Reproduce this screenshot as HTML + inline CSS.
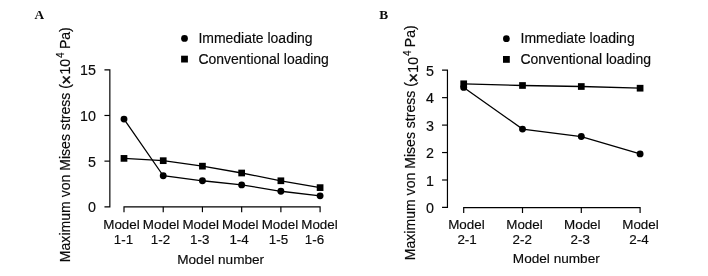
<!DOCTYPE html>
<html><head><meta charset="utf-8"><title>Figure</title>
<style>
html,body{margin:0;padding:0;background:#fff;}
body{width:708px;height:276px;overflow:hidden;}
svg{display:block;}
text{font-family:"Liberation Sans",Arial,sans-serif;fill:#0a0a0a;stroke:#0a0a0a;stroke-width:0.16px;}
.t{font-size:14.3px;}
.xt{font-size:13.4px;}
.lg{font-size:13.98px;}
.lab{font-size:14.07px;}
.xl{font-size:13.6px;}
.pl{font-family:"Liberation Serif","Times New Roman",serif;font-weight:bold;font-size:13.3px;stroke:none;}
.ax{stroke:#000;stroke-width:1.18;fill:none;}
.ln{stroke:#000;stroke-width:1.3;fill:none;}
.m{fill:#000;}
</style></head><body>
<svg width="708" height="276" viewBox="0 0 708 276">
<rect width="708" height="276" fill="#fff"/>

<text class="pl" x="34.4" y="19.35">A</text>
<path class="ax" d="M104.45 69.8 H109.85 V206.8 H104.45"/>
<text class="t" text-anchor="end" x="95.95" y="212.2">0</text>
<path class="ax" d="M104.45 161.13 H109.85"/>
<text class="t" text-anchor="end" x="95.95" y="166.53">5</text>
<path class="ax" d="M104.45 115.47 H109.85"/>
<text class="t" text-anchor="end" x="95.95" y="120.87">10</text>
<text class="t" text-anchor="end" x="95.95" y="75.2">15</text>
<path class="ax" d="M124 212.2 V206.8 H320.1 V212.2"/>
<path class="ax" d="M163.22 206.8 V212.2"/>
<path class="ax" d="M202.44 206.8 V212.2"/>
<path class="ax" d="M241.66 206.8 V212.2"/>
<path class="ax" d="M280.88 206.8 V212.2"/>
<text class="xt" text-anchor="middle" x="121.5" y="228.8">Model</text>
<text class="xt" text-anchor="middle" x="123.5" y="243.8">1-1</text>
<text class="xt" text-anchor="middle" x="161.1" y="228.8">Model</text>
<text class="xt" text-anchor="middle" x="160.4" y="243.8">1-2</text>
<text class="xt" text-anchor="middle" x="200.7" y="228.8">Model</text>
<text class="xt" text-anchor="middle" x="199.7" y="243.8">1-3</text>
<text class="xt" text-anchor="middle" x="240.3" y="228.8">Model</text>
<text class="xt" text-anchor="middle" x="239.1" y="243.8">1-4</text>
<text class="xt" text-anchor="middle" x="279.9" y="228.8">Model</text>
<text class="xt" text-anchor="middle" x="278.4" y="243.8">1-5</text>
<text class="xt" text-anchor="middle" x="319.5" y="228.8">Model</text>
<text class="xt" text-anchor="middle" x="314.5" y="243.8">1-6</text>
<polyline class="ln" points="124,119.12 163.22,175.75 202.44,180.77 241.66,184.88 280.88,191.27 320.1,195.84"/>
<polyline class="ln" points="124,158.39 163.22,160.68 202.44,166.16 241.66,173.01 280.88,180.77 320.1,187.62"/>
<circle class="m" cx="124" cy="119.12" r="3.45"/>
<circle class="m" cx="163.22" cy="175.75" r="3.45"/>
<circle class="m" cx="202.44" cy="180.77" r="3.45"/>
<circle class="m" cx="241.66" cy="184.88" r="3.45"/>
<circle class="m" cx="280.88" cy="191.27" r="3.45"/>
<circle class="m" cx="320.1" cy="195.84" r="3.45"/>
<rect class="m" x="120.65" y="155.04" width="6.7" height="6.7"/>
<rect class="m" x="159.87" y="157.33" width="6.7" height="6.7"/>
<rect class="m" x="199.09" y="162.81" width="6.7" height="6.7"/>
<rect class="m" x="238.31" y="169.66" width="6.7" height="6.7"/>
<rect class="m" x="277.53" y="177.42" width="6.7" height="6.7"/>
<rect class="m" x="316.75" y="184.27" width="6.7" height="6.7"/>
<circle class="m" cx="184.5" cy="38.4" r="3.4"/>
<text class="lg" x="198.4" y="43">Immediate loading</text>
<rect class="m" x="181.1" y="55.7" width="6.8" height="6.8"/>
<text class="lg" x="198.4" y="64">Conventional loading</text>
<text class="lab" text-anchor="middle" transform="translate(70.2 144.7) rotate(-90)">Maximum von Mises stress (<tspan font-size="16" stroke-width="0.5" dx="-0.46" dy="1.5">×</tspan><tspan dx="0.54" dy="-1.5">10</tspan><tspan font-size="10" dx="1" dy="-5.8">4</tspan><tspan dx="-0.6" dy="5.8"> Pa)</tspan></text>
<text class="xl" text-anchor="middle" x="220.7" y="263.5">Model number</text>
<text class="pl" x="379.3" y="19.2">B</text>
<path class="ax" d="M442.05 70.2 H447.45 V207.45 H442.05"/>
<text class="t" text-anchor="end" x="433.85" y="213.05">0</text>
<path class="ax" d="M442.05 180 H447.45"/>
<text class="t" text-anchor="end" x="433.85" y="185.6">1</text>
<path class="ax" d="M442.05 152.55 H447.45"/>
<text class="t" text-anchor="end" x="433.85" y="158.15">2</text>
<path class="ax" d="M442.05 125.1 H447.45"/>
<text class="t" text-anchor="end" x="433.85" y="130.7">3</text>
<path class="ax" d="M442.05 97.65 H447.45"/>
<text class="t" text-anchor="end" x="433.85" y="103.25">4</text>
<text class="t" text-anchor="end" x="433.85" y="75.8">5</text>
<path class="ax" d="M463.7 213 V207.6 H640.1 V213"/>
<path class="ax" d="M522.5 207.6 V213"/>
<path class="ax" d="M581.3 207.6 V213"/>
<text class="xt" text-anchor="middle" x="466.4" y="228.8">Model</text>
<text class="xt" text-anchor="middle" x="467.1" y="243.8">2-1</text>
<text class="xt" text-anchor="middle" x="524.5" y="228.8">Model</text>
<text class="xt" text-anchor="middle" x="522.3" y="243.8">2-2</text>
<text class="xt" text-anchor="middle" x="582.3" y="228.8">Model</text>
<text class="xt" text-anchor="middle" x="580.2" y="243.8">2-3</text>
<text class="xt" text-anchor="middle" x="640.5" y="228.8">Model</text>
<text class="xt" text-anchor="middle" x="638.9" y="243.8">2-4</text>
<polyline class="ln" points="463.7,87.41 522.5,129.11 581.3,136.55 640.1,153.9"/>
<polyline class="ln" points="463.7,83.79 522.5,85.49 581.3,86.51 640.1,88.21"/>
<circle class="m" cx="463.7" cy="87.41" r="3.45"/>
<circle class="m" cx="522.5" cy="129.11" r="3.45"/>
<circle class="m" cx="581.3" cy="136.55" r="3.45"/>
<circle class="m" cx="640.1" cy="153.9" r="3.45"/>
<rect class="m" x="460.35" y="80.44" width="6.7" height="6.7"/>
<rect class="m" x="519.15" y="82.14" width="6.7" height="6.7"/>
<rect class="m" x="577.95" y="83.16" width="6.7" height="6.7"/>
<rect class="m" x="636.75" y="84.86" width="6.7" height="6.7"/>
<circle class="m" cx="506.4" cy="38.65" r="3.4"/>
<text class="lg" x="520.5" y="43">Immediate loading</text>
<rect class="m" x="503" y="56" width="6.8" height="6.8"/>
<text class="lg" x="520.5" y="64">Conventional loading</text>
<text class="lab" text-anchor="middle" transform="translate(415.2 142.75) rotate(-90)">Maximum von Mises stress (<tspan font-size="16" stroke-width="0.5" dx="-0.46" dy="4.2">×</tspan><tspan dx="0.54" dy="-1.5">10</tspan><tspan font-size="10" dx="1" dy="-7.3">4</tspan><tspan dx="-0.6" dy="4.6"> Pa)</tspan></text>
<text class="xl" text-anchor="middle" x="556.3" y="262.7">Model number</text>
</svg></body></html>
